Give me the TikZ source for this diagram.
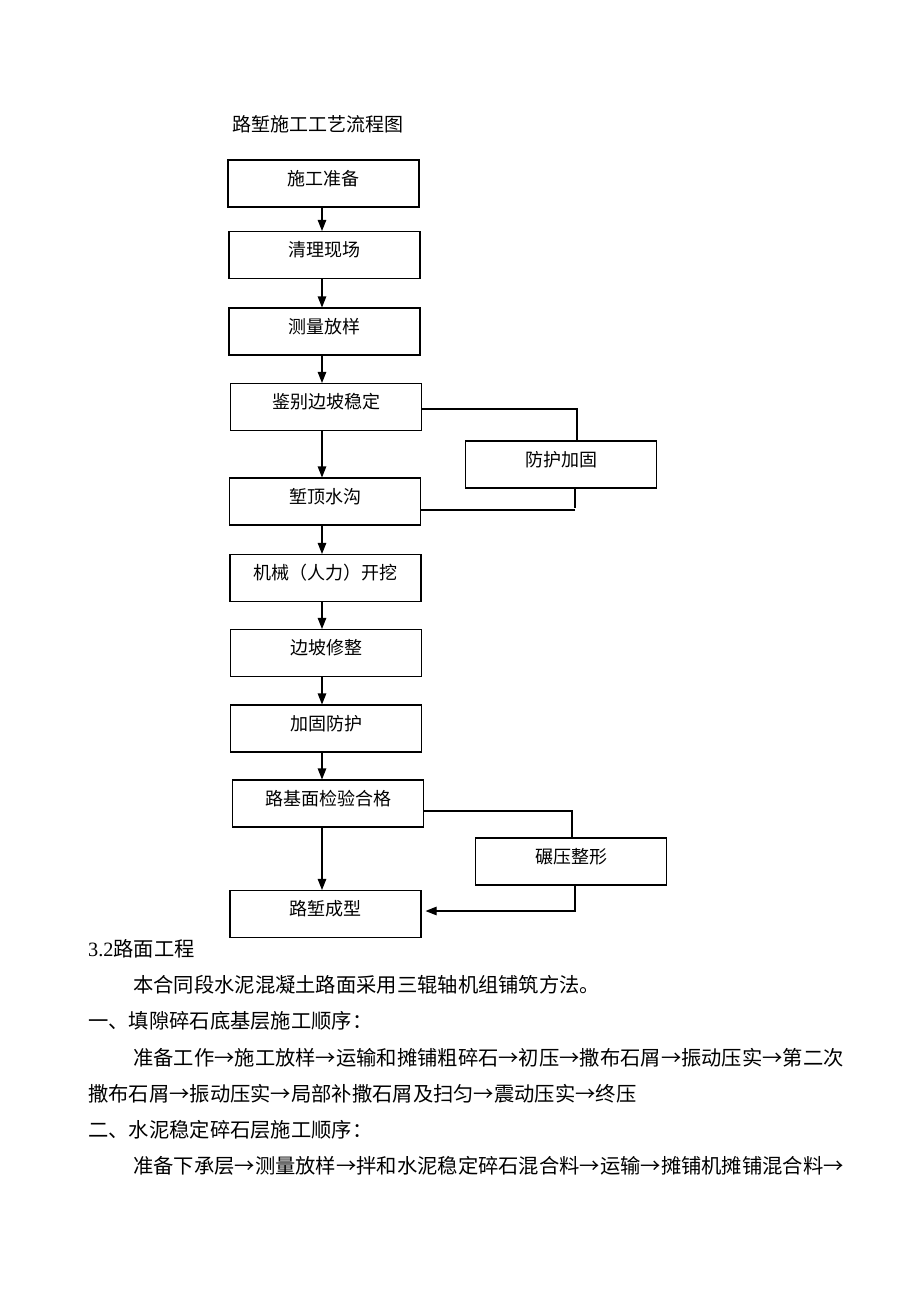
\documentclass[tikz,border=0pt]{standalone}
\usepackage{fontspec}
\setmainfont{Liberation Serif}
\newfontfamily\cjk{Noto Sans CJK SC}
\usetikzlibrary{arrows.meta}
\begin{document}
\begin{tikzpicture}[x=1pt,y=-1pt,
  box/.style={draw=black,line width=1.1pt,minimum width=191pt,minimum height=47pt,inner sep=0pt},
  boxtxt/.style={inner sep=0pt,font=\cjk\fontsize{18}{18}\selectfont},
  para/.style={inner sep=0pt,anchor=west,font=\cjk\fontsize{20.3}{20.3}\selectfont},
  link/.style={draw=black,line width=1.1pt},
  arr/.style={link,-{Triangle[length=11pt,width=8.5pt]}}]
\useasboundingbox[fill=white] (0,0) rectangle (920,1302);
% title
\node[inner sep=0pt,anchor=west,font=\cjk\fontsize{19}{19}\selectfont] (title) at (232,124) {路堑施工工艺流程图};
% main column boxes
\node[box] (n1) at (323.5,183.5) {};
\node[box] (n2) at (324.5,255) {};
\node[box] (n3) at (324.5,331.5) {};
\node[box] (n4) at (326,407) {};
\node[box] (n5) at (325,501.5) {};
\node[box] (n6) at (325.5,578) {};
\node[box] (n7) at (326,653) {};
\node[box] (n8) at (326,728.5) {};
\node[box] (n9) at (328,803.5) {};
\node[box] (n10) at (325.5,914) {};
\node[box] (sA) at (561,464.5) {};
\node[box] (sB) at (571,861.5) {};
% box texts
\node[boxtxt] (t1) at ([yshift=5pt]n1.center) {施工准备};
\node[boxtxt] (t2) at ([yshift=5pt]n2.center) {清理现场};
\node[boxtxt] (t3) at ([yshift=5pt]n3.center) {测量放样};
\node[boxtxt] (t4) at ([yshift=5pt]n4.center) {鉴别边坡稳定};
\node[boxtxt] (t5) at ([yshift=5pt]n5.center) {堑顶水沟};
\node[boxtxt] (t6) at ([yshift=5pt]n6.center) {机械（人力）开挖};
\node[boxtxt] (t7) at ([yshift=5pt]n7.center) {边坡修整};
\node[boxtxt] (t8) at ([yshift=5pt]n8.center) {加固防护};
\node[boxtxt] (t9) at ([yshift=5pt]n9.center) {路基面检验合格};
\node[boxtxt] (t10) at ([yshift=5pt]n10.center) {路堑成型};
\node[boxtxt] (tA) at ([yshift=4.5pt]sA.center) {防护加固};
\node[boxtxt] (tB) at ([yshift=5pt]sB.center) {碾压整形};
% main arrows
\coordinate (ax) at (322,0);
\draw[arr] (n1.south -| ax) -- (n2.north -| ax);
\draw[arr] (n2.south -| ax) -- (n3.north -| ax);
\draw[arr] (n3.south -| ax) -- (n4.north -| ax);
\draw[arr] (n4.south -| ax) -- (n5.north -| ax);
\draw[arr] (n5.south -| ax) -- (n6.north -| ax);
\draw[arr] (n6.south -| ax) -- (n7.north -| ax);
\draw[arr] (n7.south -| ax) -- (n8.north -| ax);
\draw[arr] (n8.south -| ax) -- (n9.north -| ax);
\draw[arr] (n9.south -| ax) -- (n10.north -| ax);
% side connectors
\coordinate (c1) at (577,409);
\coordinate (c2) at (575,510);
\coordinate (c3) at (572,811);
\coordinate (c4) at (575,911);
\draw[link] (n4.east |- c1) -- (c1) -- (c1 |- sA.north);
\draw[link] (c2 |- sA.south) -- ([yshift=2pt]c2);
\draw[link] (c2) -- (n5.east |- c2);
\draw[link] (n9.east |- c3) -- (c3) -- (c3 |- sB.north);
\draw[arr] (c4 |- sB.south) -- (c4) -- ([xshift=4pt]n10.east |- c4);
% paragraph text
\node[para] (p1) at (88,949) {{\rmfamily 3.2}路面工程};
\node[para] (p2) at (133,985) {本合同段水泥混凝土路面采用三辊轴机组铺筑方法。};
\node[para] (p3) at (88,1021) {一、填隙碎石底基层施工顺序：};
\node[para] (p4) at (133,1058) {准备工作→施工放样→运输和摊铺粗碎石→初压→撒布石屑→振动压实→第二次};
\node[para] (p5) at (88,1094) {撒布石屑→振动压实→局部补撒石屑及扫匀→震动压实→终压};
\node[para] (p6) at (88,1130) {二、水泥稳定碎石层施工顺序：};
\node[para] (p7) at (133,1166) {准备下承层→测量放样→拌和水泥稳定碎石混合料→运输→摊铺机摊铺混合料→};
\end{tikzpicture}
\end{document}
